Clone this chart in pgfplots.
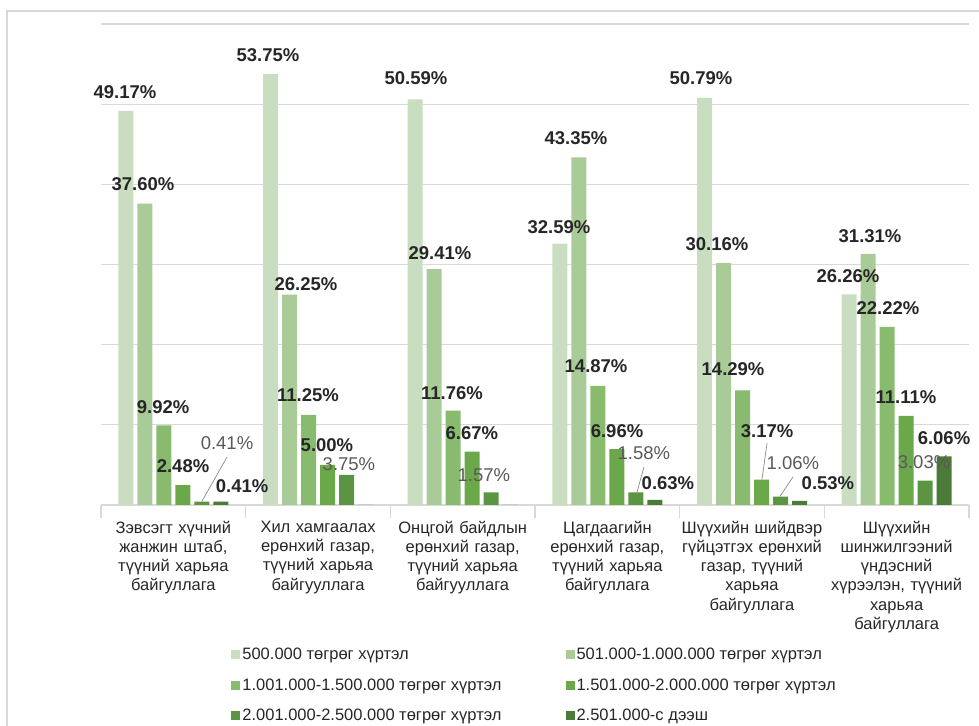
\documentclass[border=0pt]{standalone}
\usepackage{pgfplots}
\pgfplotsset{compat=1.18}
\usepackage{fontspec}
\setmainfont{Liberation Sans}
\definecolor{c1}{HTML}{C9DDC0}
\definecolor{c2}{HTML}{A9CB98}
\definecolor{c3}{HTML}{89BB6F}
\definecolor{c4}{HTML}{6AA84A}
\definecolor{c5}{HTML}{5B9443}
\definecolor{c6}{HTML}{4B7B38}
\definecolor{gridc}{HTML}{D9D9D9}
\definecolor{lbl}{HTML}{262626}
\definecolor{lblg}{HTML}{595959}
\begin{document}
\begin{tikzpicture}[x=1pt,y=1pt,
  bl/.style={font=\bfseries\fontsize{18.5}{18.5}\selectfont, text=lbl, inner sep=0pt},
  gl/.style={font=\fontsize{18.5}{18.5}\selectfont, text=lblg, inner sep=0pt},
  ld/.style={draw=lblg!70, line width=0.7pt}]
\useasboundingbox (0,0) rectangle (979,725);
\draw[line width=1.5pt, color=gridc] (7,-5) -- (7,714) -- (990,714);
\begin{axis}[
  clip=false,
  at={(101pt,220pt)}, anchor=south west,
  scale only axis, width=868pt, height=481pt,
  ymin=0, ymax=60, xmin=-0.5, xmax=5.5, enlargelimits=false,
  ybar=4pt, bar width=15pt,
  separate axis lines,
  axis x line*=bottom, axis y line*=left,
  x axis line style={-, color=gridc, line width=1.3pt},
  y axis line style={draw=none},
  ytick={0,10,...,60}, yticklabels={}, ytick style={draw=none},
  ymajorgrids, grid style={color=gridc, line width=1.3pt},
  xtick={0,...,5},
  xticklabels={
    {Зэвсэгт хүчний\\жанжин штаб,\\түүний харьяа\\байгуллага},
    {Хил хамгаалах\\ерөнхий газар,\\түүний харьяа\\байгууллага},
    {Онцгой байдлын\\ерөнхий газар,\\түүний харьяа\\байгууллага},
    {Цагдаагийн\\ерөнхий газар,\\түүний харьяа\\байгуллага},
    {Шүүхийн шийдвэр\\гүйцэтгэх ерөнхий\\газар, түүний\\харьяа\\байгуллага},
    {Шүүхийн\\шинжилгээний\\үндэсний\\хүрээлэн, түүний\\харьяа\\байгуллага}},
  major x tick style={draw=none},
  minor xtick={-0.5,0.5,...,5.5},
  minor tick length=13pt, tick align=outside,
  minor x tick style={color=gridc, line width=1.3pt},
  xticklabel style={font=\fontsize{16.5}{19.3}\selectfont, align=center, text width=144pt, text=lbl, yshift=-8pt},
  legend columns=2,
  legend style={draw=none, fill=none, at={(0.150,-0.293)}, anchor=north west,
    font=\fontsize{16.5}{19}\selectfont, text=lbl, inner sep=0pt,
    row sep=13.5pt, /tikz/column 2/.style={column sep=62pt}},
  legend cell align=left,
  legend image code/.code={\fill[#1] (0pt,-4.5pt) rectangle (9pt,4.5pt);},
  every axis plot/.append style={draw=none},
]
\addplot[fill=c1] coordinates {(0,49.17) (1,53.75) (2,50.59) (3,32.59) (4,50.79) (5,26.26)};
\addplot[fill=c2] coordinates {(0,37.60) (1,26.25) (2,29.41) (3,43.35) (4,30.16) (5,31.31)};
\addplot[fill=c3] coordinates {(0,9.92) (1,11.25) (2,11.76) (3,14.87) (4,14.29) (5,22.22)};
\addplot[fill=c4] coordinates {(0,2.48) (1,5.00) (2,6.67) (3,6.96) (4,3.17) (5,11.11)};
\addplot[fill=c5] coordinates {(0,0.41) (1,3.75) (2,1.57) (3,1.58) (4,1.06) (5,3.03)};
\addplot[fill=c6] coordinates {(0,0.41) (1,0) (2,0) (3,0.63) (4,0.53) (5,6.06)};
\legend{500.000 төгрөг хүртэл, 501.000-1.000.000 төгрөг хүртэл,
  1.001.000-1.500.000 төгрөг хүртэл, 1.501.000-2.000.000 төгрөг хүртэл,
  2.001.000-2.500.000 төгрөг хүртэл, 2.501.000-с дээш}
% leader lines
\draw[ld] (axis cs:0.371,5.98) -- (axis cs:0.197,0.45);
\draw[ld] (axis cs:3.253,4.73) -- (axis cs:3.205,1.60);
\draw[ld] (axis cs:4.104,7.72) -- (axis cs:4.069,3.20);
\draw[ld] (axis cs:4.283,3.49) -- (axis cs:4.193,1.08);
% group 1
\node[bl] at (axis cs:-0.334,51.5) {49.17\%};
\node[bl] at (axis cs:-0.210,40.0) {37.60\%};
\node[bl] at (axis cs:-0.071,12.2) {9.92\%};
\node[bl] at (axis cs:0.067,4.86) {2.48\%};
\node[gl] at (axis cs:0.371,7.72) {0.41\%};
\node[bl] at (axis cs:0.475,2.37) {0.41\%};
% group 2
\node[bl] at (axis cs:0.654,56.1) {53.75\%};
\node[bl] at (axis cs:0.917,27.5) {26.25\%};
\node[bl] at (axis cs:0.931,13.7) {11.25\%};
\node[bl] at (axis cs:1.062,7.45) {5.00\%};
\node[gl] at (axis cs:1.214,5.10) {3.75\%};
% group 3
\node[bl] at (axis cs:1.677,53.3) {50.59\%};
\node[bl] at (axis cs:1.843,31.4) {29.41\%};
\node[bl] at (axis cs:1.926,13.9) {11.76\%};
\node[bl] at (axis cs:2.064,8.96) {6.67\%};
\node[gl] at (axis cs:2.147,3.73) {1.57\%};
% group 4
\node[bl] at (axis cs:2.666,34.7) {32.59\%};
\node[bl] at (axis cs:2.783,45.7) {43.35\%};
\node[bl] at (axis cs:2.922,17.3) {14.87\%};
\node[bl] at (axis cs:3.067,9.21) {6.96\%};
\node[gl] at (axis cs:3.253,6.47) {1.58\%};
\node[bl] at (axis cs:3.419,2.74) {0.63\%};
% group 5
\node[bl] at (axis cs:3.647,53.3) {50.79\%};
\node[bl] at (axis cs:3.758,32.6) {30.16\%};
\node[bl] at (axis cs:3.869,16.9) {14.29\%};
\node[bl] at (axis cs:4.104,9.21) {3.17\%};
\node[gl] at (axis cs:4.283,5.23) {1.06\%};
\node[bl] at (axis cs:4.525,2.74) {0.53\%};
% group 6
\node[bl] at (axis cs:4.663,28.6) {26.26\%};
\node[bl] at (axis cs:4.816,33.5) {31.31\%};
\node[bl] at (axis cs:4.940,24.5) {22.22\%};
\node[bl] at (axis cs:5.064,13.4) {11.11\%};
\node[bl] at (axis cs:5.327,8.34) {6.06\%};
\node[gl] at (axis cs:5.189,5.35) {3.03\%};
\end{axis}
\end{tikzpicture}
\end{document}
